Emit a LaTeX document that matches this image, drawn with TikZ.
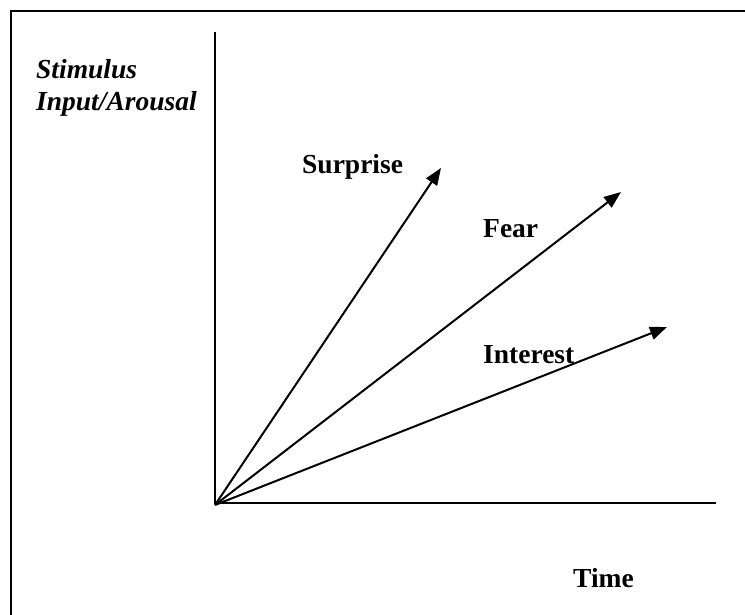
\documentclass[tikz,border=0pt]{standalone}
\usepackage{fontspec}
\setmainfont{Liberation Serif}
\usetikzlibrary{arrows.meta}
\begin{document}
\begin{tikzpicture}[x=1pt,y=-1pt,
  lbl/.style={anchor=base west,inner sep=0pt,font=\fontsize{27.5}{30}\selectfont\bfseries},
  ilbl/.style={lbl,font=\fontsize{27.5}{30}\selectfont\bfseries\itshape},
  ax/.style={line width=2.2pt},
  ray/.style={line width=2pt,-{Triangle[length=17pt,width=13pt]}}]
\useasboundingbox (0,0) rectangle (745,615);
% frame (only top and left edges visible)
\draw[line width=2.2pt] (11,615) -- (11,11) -- (745,11);
% axes
\coordinate (O) at (215,505);
\coordinate (ytop) at (215,32);
\coordinate (xend) at (716,503);
\draw[ax] (ytop) -- (215,503) -- (xend);
% rays
\coordinate (s) at (441,168);
\coordinate (f) at (621,192);
\coordinate (i) at (667,327);
\draw[ray] (O) -- (s);
\draw[ray] (O) -- (f);
\draw[ray] (O) -- (i);
% labels
\node[ilbl] (stim) at (36,79) {Stimulus};
\node[ilbl] (inp) at (36,111) {Input/Arousal};
\node[lbl] (sur) at (302,174) {Surprise};
\node[lbl] (fear) at (483,237) {Fear};
\node[lbl] (int) at (483,363) {Interest};
\node[lbl] (time) at (573,587) {Time};
\end{tikzpicture}
\end{document}
